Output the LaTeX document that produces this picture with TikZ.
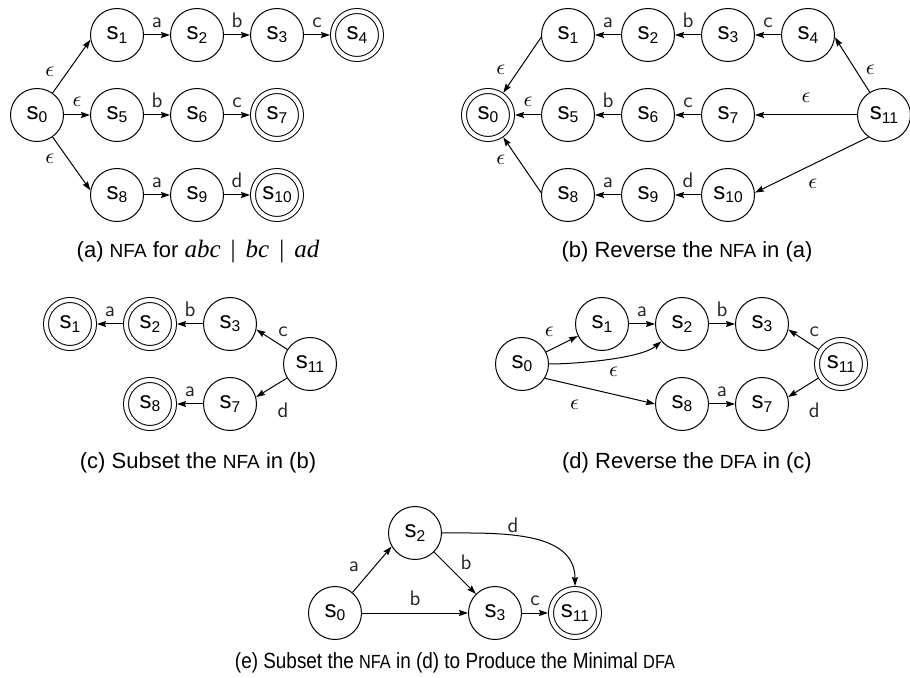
\documentclass[tikz,border=0pt]{standalone}
\usepackage{fontspec}
\setmainfont{Liberation Sans}
\newfontfamily\capserif{Liberation Serif}
\usetikzlibrary{arrows.meta}

\newcommand{\sname}[1]{s\raisebox{-1.6pt}{\fontsize{7.8}{8}\selectfont #1}}
\newcommand{\capit}[1]{{\capserif\itshape\fontsize{12.5}{13}\selectfont #1}}
\newcommand{\capbar}{\hspace{5pt}{\capserif\fontsize{12.5}{13}\selectfont|}\hspace{5pt}}
\newcommand{\capsmall}[1]{{\fontsize{9.5}{11}\selectfont #1}}

\begin{document}
\begin{tikzpicture}[x=0.5pt, y=-0.5pt, line width=0.5pt, line join=round,
    >={Stealth[length=4.5pt, width=3pt, inset=0.6pt]},
    state/.style={circle, draw, minimum size=26.5pt, inner sep=0pt,
        font=\fontsize{12}{13}\selectfont},
    accept/.style={state, double, double distance=2pt, minimum size=24pt, outer sep=1.5pt},
    sym/.style={font=\sffamily\fontsize{10.5}{11}\selectfont, text=black!85, inner sep=0pt},
    eps/.style={font=\fontsize{11}{12}\selectfont, inner sep=0pt},
    subcap/.style={anchor=base, font=\fontsize{11}{13}\selectfont}]

    \useasboundingbox (0,0) rectangle (910,678);

    % --- (a) NFA for abc | bc | ad ---
    \node[state]  (a0)  at (37,115)  {\sname{0}};
    \node[state]  (a1)  at (117,35)  {\sname{1}};
    \node[state]  (a2)  at (197,35)  {\sname{2}};
    \node[state]  (a3)  at (277,35)  {\sname{3}};
    \node[accept] (a4)  at (357,35)  {\sname{4}};
    \node[state]  (a5)  at (117,115) {\sname{5}};
    \node[state]  (a6)  at (197,115) {\sname{6}};
    \node[accept] (a7)  at (277,115) {\sname{7}};
    \node[state]  (a8)  at (117,195) {\sname{8}};
    \node[state]  (a9)  at (197,195) {\sname{9}};
    \node[accept] (a10) at (277,195) {\sname{10}};

    \draw[->] (a0) -- (a1.-170) node[eps, pos=0.4, shift={(-18,0)}] {$\epsilon$};
    \draw[->] (a0) -- (a5) node[eps, midway, above=4pt] {$\epsilon$};
    \draw[->] (a0) -- (a8.170) node[eps, pos=0.4, shift={(-18,0)}] {$\epsilon$};
    \draw[->] (a1) -- (a2) node[sym, midway, above=3.5pt] {a};
    \draw[->] (a2) -- (a3) node[sym, midway, above=3.5pt] {b};
    \draw[->] (a3) -- (a4) node[sym, midway, above=3.5pt] {c};
    \draw[->] (a5) -- (a6) node[sym, midway, above=3.5pt] {b};
    \draw[->] (a6) -- (a7) node[sym, midway, above=3.5pt] {c};
    \draw[->] (a8) -- (a9) node[sym, midway, above=3.5pt] {a};
    \draw[->] (a9) -- (a10) node[sym, midway, above=3.5pt] {d};

    \node[subcap] (capa) at (198,258)
        {(a) \capsmall{NFA} for \capit{abc}\capbar\capit{bc}\capbar\capit{ad}};

    % --- (b) reversed NFA ---
    \node[accept] (b0)  at (488,115) {\sname{0}};
    \node[state]  (b1)  at (568,35)  {\sname{1}};
    \node[state]  (b2)  at (648,35)  {\sname{2}};
    \node[state]  (b3)  at (728,35)  {\sname{3}};
    \node[state]  (b4)  at (808,35)  {\sname{4}};
    \node[state]  (b5)  at (568,115) {\sname{5}};
    \node[state]  (b6)  at (648,115) {\sname{6}};
    \node[state]  (b7)  at (728,115) {\sname{7}};
    \node[state]  (b8)  at (568,195) {\sname{8}};
    \node[state]  (b9)  at (648,195) {\sname{9}};
    \node[state]  (b10) at (728,195) {\sname{10}};
    \node[state]  (b11) at (884,115) {\sname{11}};

    \draw[->] (b1.-175) -- (b0) node[eps, pos=0.59, shift={(-18,0)}] {$\epsilon$};
    \draw[->] (b5) -- (b0) node[eps, midway, above=4pt] {$\epsilon$};
    \draw[->] (b8.175) -- (b0) node[eps, pos=0.59, shift={(-18,0)}] {$\epsilon$};
    \draw[->] (b2) -- (b1) node[sym, midway, above=3.5pt] {a};
    \draw[->] (b3) -- (b2) node[sym, midway, above=3.5pt] {b};
    \draw[->] (b4) -- (b3) node[sym, midway, above=3.5pt] {c};
    \draw[->] (b6) -- (b5) node[sym, midway, above=3.5pt] {b};
    \draw[->] (b7) -- (b6) node[sym, midway, above=3.5pt] {c};
    \draw[->] (b9) -- (b8) node[sym, midway, above=3.5pt] {a};
    \draw[->] (b10) -- (b9) node[sym, midway, above=3.5pt] {d};
    \draw[->] (b11.122) -- (b4.-5) node[eps, pos=0.41, shift={(15,0)}] {$\epsilon$};
    \draw[->] (b11) -- (b7) node[eps, midway, above=6pt] {$\epsilon$};
    \draw[->] (b11.-125) -- (b10.5) node[eps, pos=0.49, shift={(0,19)}] {$\epsilon$};

    \node[subcap] (capb) at (687,258) {(b) Reverse the \capsmall{NFA} in (a)};

    % --- (c) subset construction on (b) ---
    \node[accept] (c1)  at (70,324)  {\sname{1}};
    \node[accept] (c2)  at (150,324) {\sname{2}};
    \node[state]  (c3)  at (230,324) {\sname{3}};
    \node[state]  (c11) at (310,364) {\sname{11}};
    \node[accept] (c8)  at (150,404) {\sname{8}};
    \node[state]  (c7)  at (230,404) {\sname{7}};

    \draw[->] (c2) -- (c1) node[sym, midway, above=3.5pt] {a};
    \draw[->] (c3) -- (c2) node[sym, midway, above=3.5pt] {b};
    \draw[->] (c11) -- (c3.-12) node[sym, pos=0.14, shift={(0,-15)}] {c};
    \draw[->] (c11) -- (c7.15) node[sym, pos=0.13, shift={(0,29.6)}] {d};
    \draw[->] (c7) -- (c8) node[sym, midway, above=3.5pt] {a};

    \node[subcap] (capc) at (198,468) {(c) Subset the \capsmall{NFA} in (b)};

    % --- (d) reversed DFA ---
    \node[state]  (d0)  at (522,364) {\sname{0}};
    \node[state]  (d1)  at (602,324) {\sname{1}};
    \node[state]  (d2)  at (682,324) {\sname{2}};
    \node[state]  (d3)  at (762,324) {\sname{3}};
    \node[accept] (d11) at (841,364) {\sname{11}};
    \node[state]  (d8)  at (682,404) {\sname{8}};
    \node[state]  (d7)  at (762,404) {\sname{7}};

    \draw[->] (d0) -- (d1) node[eps, pos=0.1, shift={(0,-19)}] {$\epsilon$};
    \draw[->] (d0) to[out=0, in=-140, looseness=0.6]
        node[eps, pos=0.5, shift={(6,12.7)}] {$\epsilon$} (d2);
    \draw[->] (d0.-32) -- (d8.west) node[eps, pos=0.27, shift={(0,20)}] {$\epsilon$};
    \draw[->] (d1) -- (d2) node[sym, midway, above=3.5pt] {a};
    \draw[->] (d2) -- (d3) node[sym, midway, above=3.5pt] {b};
    \draw[->] (d8) -- (d7) node[sym, midway, above=3.5pt] {a};
    \draw[->] (d11) -- (d3.-12) node[sym, pos=0.14, shift={(0,-15)}] {c};
    \draw[->] (d11) -- (d7.15) node[sym, pos=0.13, shift={(0,29.6)}] {d};

    \node[subcap] (capd) at (687,468) {(d) Reverse the \capsmall{DFA} in (c)};

    % --- (e) minimal DFA ---
    \node[state]  (e0)  at (335,613) {\sname{0}};
    \node[state]  (e2)  at (415,533) {\sname{2}};
    \node[state]  (e3)  at (495,613) {\sname{3}};
    \node[accept] (e11) at (575,613) {\sname{11}};

    \draw[->] (e0) -- (e2.-150) node[sym, pos=0.55, shift={(-20,0)}] {a};
    \draw[->] (e0) -- (e3) node[sym, midway, above=3.5pt] {b};
    \draw[->] (e2) -- (e3) node[sym, pos=0.5, shift={(11,-11)}] {b};
    \draw[->] (e3) -- (e11) node[sym, midway, above=3.5pt] {c};
    \draw[->] (e2) to[out=0, in=90]
        node[sym, pos=0.4, shift={(0,-10)}] {d} (e11);

    \node[subcap] (cape) at (455,668)
        {\scalebox{0.86}[1]{(e) Subset the \capsmall{NFA} in (d) to Produce the Minimal \capsmall{DFA}}};

\end{tikzpicture}
\end{document}
